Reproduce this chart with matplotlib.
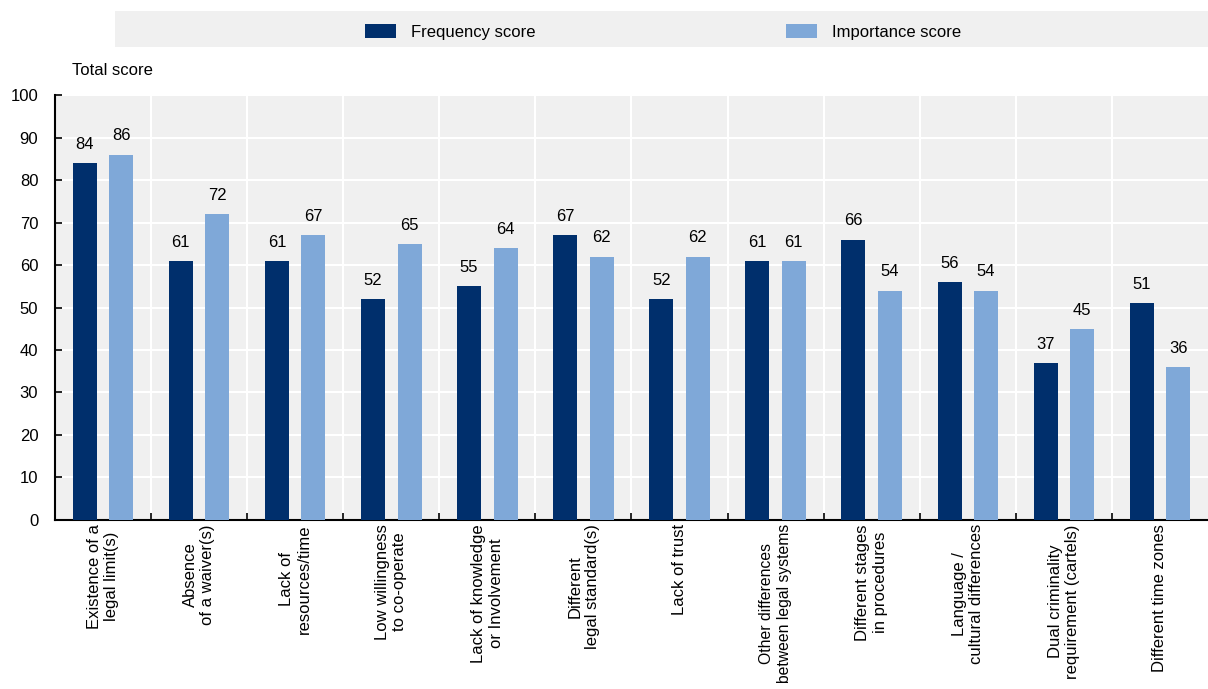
import numpy as np
import matplotlib
matplotlib.use('Agg')
import matplotlib.pyplot as plt
from matplotlib.patches import Rectangle

plt.rcParams['font.family'] = ['Liberation Sans', 'DejaVu Sans']

categories = [
    'Existence of a\nlegal limit(s)',
    'Absence\nof a waiver(s)',
    'Lack of\nresources/time',
    'Low willingness\nto co-operate',
    'Lack of knowledge\nor Involvement',
    'Different\nlegal standard(s)',
    'Lack of trust',
    'Other differences\nbetween legal systems',
    'Different stages\nin procedures',
    'Language /\ncultural differences',
    'Dual criminality\nrequirement (cartels)',
    'Different time zones',
]
frequency = [84, 61, 61, 52, 55, 67, 52, 61, 66, 56, 37, 51]
importance = [86, 72, 67, 65, 64, 62, 62, 61, 54, 54, 45, 36]

DARK = '#002f6c'
LIGHT = '#7fa8d8'
BG = '#f0f0f0'
FS = 12

fig = plt.figure(figsize=(12.08, 6.89), dpi=100)
ax = fig.add_axes([0.0455, 0.2453, 0.9545, 0.6168])
ax.set_facecolor(BG)

x = np.arange(len(categories))
w = 0.25
b1 = ax.bar(x - 0.19, frequency, w, color=DARK, label='Frequency score', zorder=3)
b2 = ax.bar(x + 0.19, importance, w, color=LIGHT, label='Importance score', zorder=3)
ax.bar_label(b1, padding=8, fontsize=FS)
ax.bar_label(b2, padding=8, fontsize=FS)

ax.set_xlim(-0.5, len(categories) - 0.5)
ax.set_ylim(0, 100)
ax.set_yticks(range(0, 101, 10))

# category separators as white grid lines
ax.set_xticks(x)
ax.set_xticklabels(categories, rotation=90, fontsize=FS, ha='center', va='top',
                   multialignment='center')
# longest label would run off the bottom edge, shrink it a touch
for lab in ax.get_xticklabels():
    if 'between legal' in lab.get_text():
        lab.set_fontsize(11.3)
ax.tick_params(axis='x', length=0, pad=3)
ax.set_xticks(np.arange(0.5, len(categories) - 0.5, 1), minor=True)
ax.tick_params(axis='x', which='minor', direction='in', length=5, width=1.2, color='black')
ax.grid(axis='x', which='minor', color='white', linewidth=1.5, zorder=1)
ax.grid(axis='y', which='major', color='white', linewidth=1.5, zorder=1)
ax.set_axisbelow(True)
ax.tick_params(axis='y', direction='in', length=5, width=1.2, labelsize=FS, pad=12)

for s in ['top', 'right']:
    ax.spines[s].set_visible(False)
for s in ['left', 'bottom']:
    ax.spines[s].set_linewidth(1.5)
    ax.spines[s].set_color('black')

fig.text(0.0596, 0.898, 'Total score', fontsize=FS, ha='left', va='center')

# legend band
fig.patches.append(Rectangle((115 / 1208, 1 - 47 / 689), 1 - 115 / 1208, 36 / 689,
                             transform=fig.transFigure, facecolor=BG, edgecolor='none',
                             zorder=0))
fig.legend(handles=[b1, b2], loc='center', bbox_to_anchor=(0.549, 1 - 32 / 689), ncol=2,
           frameon=False, fontsize=FS, handlelength=1.86, handleheight=0.9,
           handletextpad=0.9, columnspacing=15)

fig.savefig('out.png', dpi=100, facecolor='white')
